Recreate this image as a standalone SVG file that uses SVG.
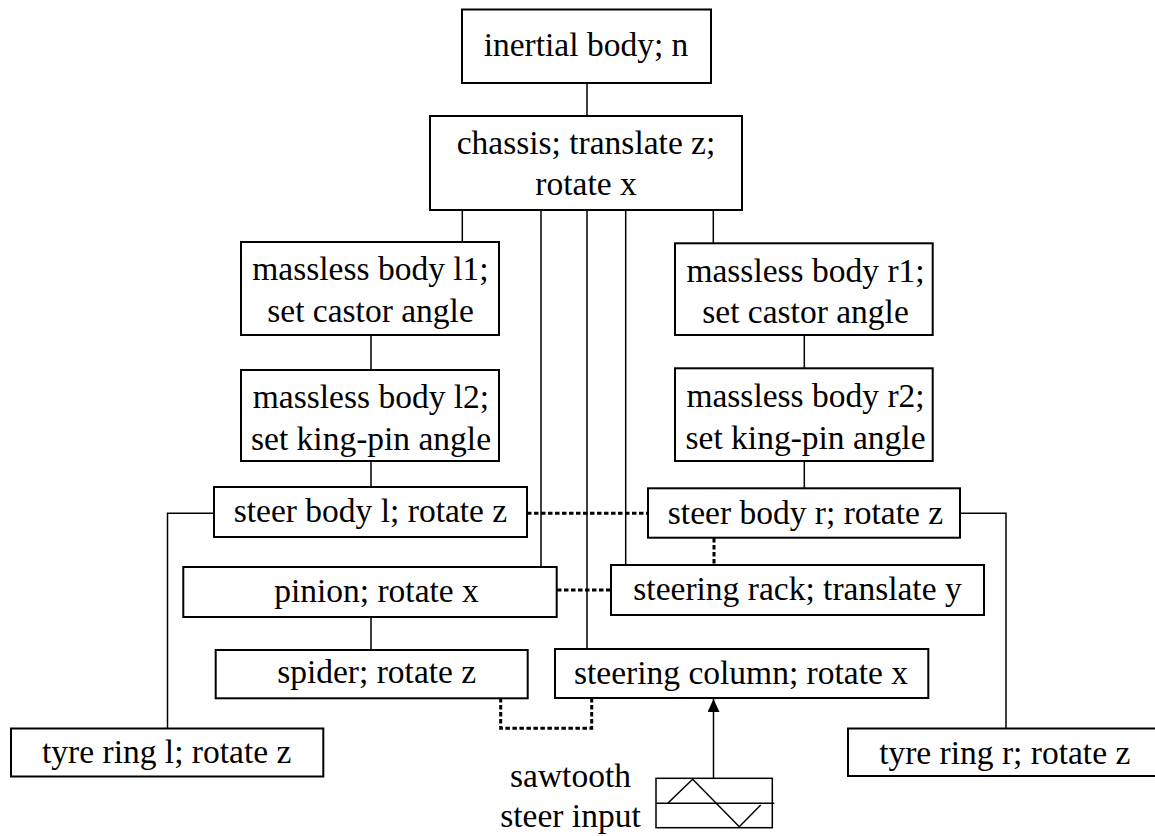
<svg xmlns="http://www.w3.org/2000/svg" width="1155" height="836" viewBox="0 0 1155 836">
  <style>
    .box { fill: #fff; stroke: #000; stroke-width: 2; }
    .lbl { font-family: "Liberation Serif", "DejaVu Serif", serif; font-size: 33.5px; fill: #000; text-anchor: middle; }
    .link { fill: none; stroke: #000; stroke-width: 1.5; }
    .dot { fill: none; stroke: #000; stroke-width: 3; stroke-dasharray: 4.5 2.5; }
    .sym { fill: none; stroke: #000; stroke-width: 1.5; }
  </style>
  <defs>
    <marker id="arrow" viewBox="0 0 13 12" refX="13" refY="6" markerWidth="13" markerHeight="12" markerUnits="userSpaceOnUse" orient="auto">
      <path d="M0,0 L13,6 L0,12 Z" fill="#000"/>
    </marker>
  </defs>
  <rect width="1155" height="836" fill="#fff"/>

  <!-- connectors -->
  <g id="connectors">
    <!-- solid tree links -->
    <line class="link" x1="587" y1="83" x2="587" y2="116"/>
    <line class="link" x1="462.3" y1="210" x2="462.3" y2="242"/>
    <line class="link" x1="541" y1="210" x2="541" y2="567"/>
    <line class="link" x1="587" y1="210" x2="587" y2="650"/>
    <line class="link" x1="625.7" y1="210" x2="625.7" y2="565"/>
    <line class="link" x1="713.3" y1="210" x2="713.3" y2="243"/>
    <line class="link" x1="371" y1="335" x2="371" y2="370"/>
    <line class="link" x1="371" y1="461" x2="371" y2="487"/>
    <line class="link" x1="804.3" y1="335" x2="804.3" y2="368"/>
    <line class="link" x1="804.3" y1="461" x2="804.3" y2="488"/>
    <line class="link" x1="371" y1="617" x2="371" y2="650"/>
    <polyline class="link" points="214,513.3 167.5,513.3 167.5,728.5"/>
    <polyline class="link" points="960,513.3 1006,513.3 1006,728.5"/>
    <!-- dotted couplings -->
    <line class="dot" x1="527" y1="513.3" x2="648" y2="513.3"/>
    <line class="dot" x1="714" y1="538" x2="714" y2="565"/>
    <line class="dot" x1="557" y1="590" x2="611" y2="590"/>
    <polyline class="dot" points="500.7,698 500.7,728.3 591.7,728.3 591.7,698"/>
    <!-- input arrow -->
    <line class="link" x1="713.5" y1="778" x2="713.5" y2="699" marker-end="url(#arrow)"/>
  </g>

  <g id="inertial-body">
    <rect class="box" x="462" y="9.5" width="249" height="73.5"/>
    <text class="lbl" x="586" y="56">inertial body; n</text>
  </g>
  <g id="chassis">
    <rect class="box" x="430" y="116" width="312" height="94"/>
    <text class="lbl" x="586" y="154">chassis; translate z;</text>
    <text class="lbl" x="586" y="195">rotate x</text>
  </g>
  <g id="massless-l1">
    <rect class="box" x="241" y="242" width="258" height="93"/>
    <text class="lbl" x="370.5" y="280">massless body l1;</text>
    <text class="lbl" x="370.5" y="321.5">set castor angle</text>
  </g>
  <g id="massless-l2">
    <rect class="box" x="241" y="370" width="258" height="91"/>
    <text class="lbl" x="371" y="408.3">massless body l2;</text>
    <text class="lbl" x="371" y="450">set king-pin angle</text>
  </g>
  <g id="massless-r1">
    <rect class="box" x="675" y="243.3" width="257.7" height="91.7"/>
    <text class="lbl" x="805.5" y="281.7">massless body r1;</text>
    <text class="lbl" x="805.5" y="323.3">set castor angle</text>
  </g>
  <g id="massless-r2">
    <rect class="box" x="675" y="368.3" width="257.7" height="92.7"/>
    <text class="lbl" x="805.5" y="406.7">massless body r2;</text>
    <text class="lbl" x="805.5" y="449.3">set king-pin angle</text>
  </g>
  <g id="steer-body-l">
    <rect class="box" x="214" y="487" width="313" height="50"/>
    <text class="lbl" x="370.5" y="521.7">steer body l; rotate z</text>
  </g>
  <g id="steer-body-r">
    <rect class="box" x="648" y="488.3" width="312" height="49.4"/>
    <text class="lbl" x="805.5" y="524.3">steer body r; rotate z</text>
  </g>
  <g id="pinion">
    <rect class="box" x="183.3" y="567" width="373.4" height="50"/>
    <text class="lbl" x="376.5" y="601.7">pinion; rotate x</text>
  </g>
  <g id="steering-rack">
    <rect class="box" x="611" y="565" width="373" height="50"/>
    <text class="lbl" x="797.5" y="600">steering rack; translate y</text>
  </g>
  <g id="spider">
    <rect class="box" x="215.7" y="650" width="312" height="48.3"/>
    <text class="lbl" x="376.7" y="683.3">spider; rotate z</text>
  </g>
  <g id="steering-column">
    <rect class="box" x="555" y="649" width="373.3" height="49"/>
    <text class="lbl" x="741" y="683.5">steering column; rotate x</text>
  </g>
  <g id="tyre-ring-l">
    <rect class="box" x="11" y="728.5" width="312.3" height="48"/>
    <text class="lbl" x="166.7" y="763.3">tyre ring l; rotate z</text>
  </g>
  <g id="tyre-ring-r">
    <rect class="box" x="848" y="728.5" width="314" height="47.5"/>
    <text class="lbl" x="1004.7" y="764">tyre ring r; rotate z</text>
  </g>
  <g id="sawtooth-input">
    <rect class="sym" x="656" y="778.3" width="116.3" height="49.4"/>
    <line class="sym" x1="656" y1="803.3" x2="774.3" y2="803.3"/>
    <polyline class="sym" points="667.7,803.3 692.7,779.3 739.3,826.7 760.7,805"/>
    <text class="lbl" x="570.5" y="786.7">sawtooth</text>
    <text class="lbl" x="570.5" y="826.7">steer input</text>
  </g>
</svg>
